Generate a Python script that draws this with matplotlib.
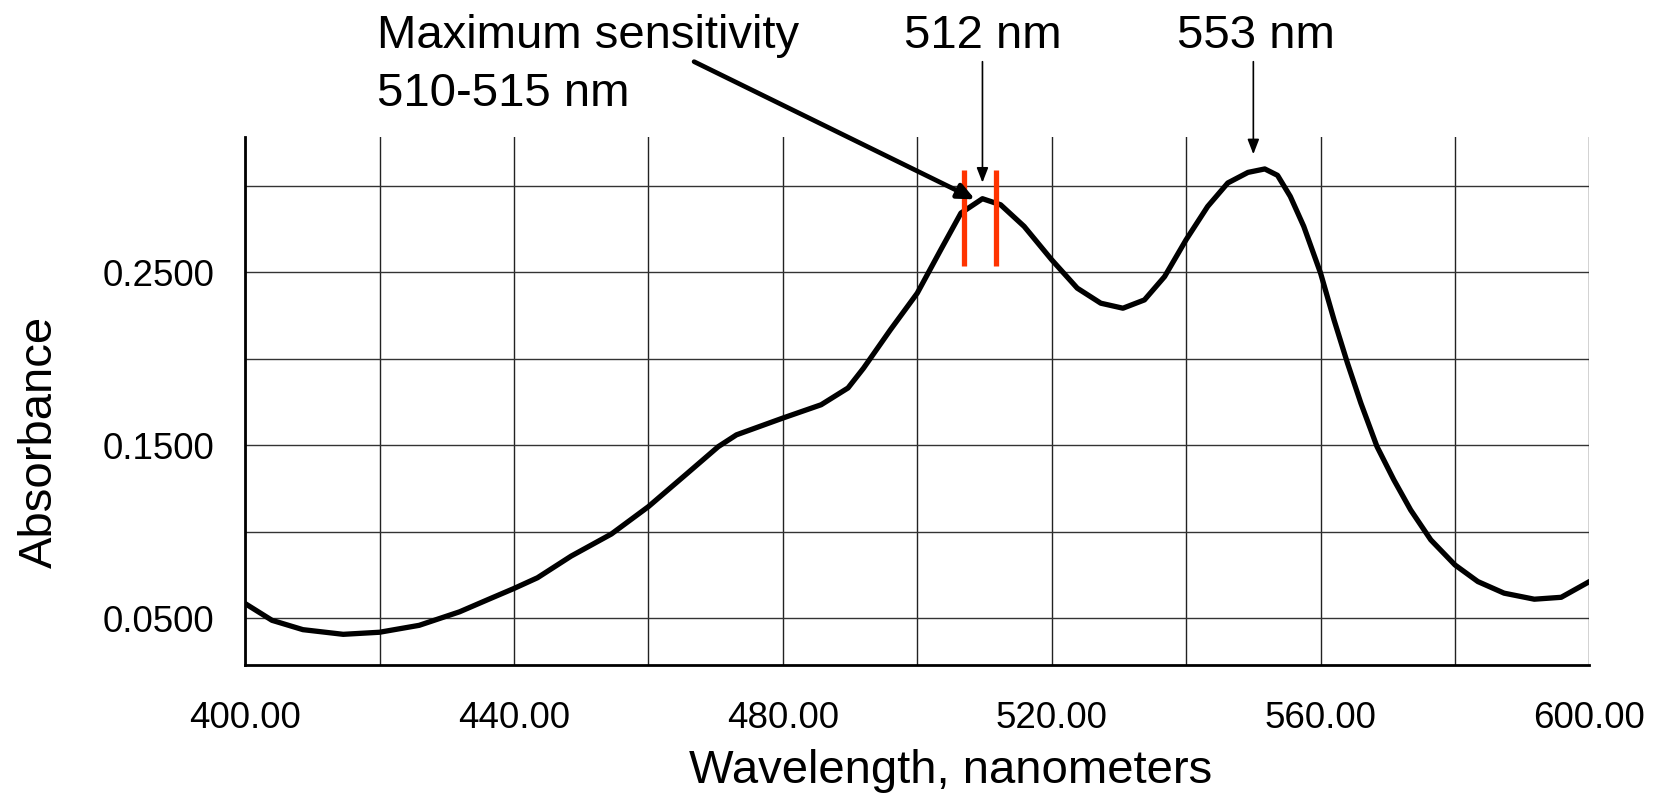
import matplotlib
matplotlib.use("Agg")
import matplotlib.pyplot as plt

plt.rcParams['font.family'] = ['Liberation Sans', 'DejaVu Sans']

# Spectrum
wavelength = [400.0, 404.0, 408.6, 414.6, 420.0, 425.9, 431.9, 436.5, 440.0, 443.5,
              448.5, 454.5, 460.0, 465.8, 470.4, 473.1, 480.0, 485.7, 489.7, 492.0,
              496.0, 500.0, 503.5, 506.5, 509.7, 512.4, 515.9, 520.0, 523.8, 527.3,
              530.6, 533.8, 536.8, 540.0, 543.2, 546.2, 549.2, 551.7, 553.6, 555.5,
              557.5, 560.0, 562.0, 564.0, 566.0, 568.4, 570.9, 573.4, 576.4, 580.0,
              583.4, 587.3, 591.8, 595.8, 600.0]
absorbance = [0.0585, 0.0488, 0.0434, 0.0407, 0.0419, 0.0459, 0.0537, 0.0614, 0.0672, 0.0734,
              0.0859, 0.0987, 0.1145, 0.1338, 0.1492, 0.1560, 0.1657, 0.1734, 0.1831, 0.1945,
              0.2167, 0.2379, 0.2630, 0.2842, 0.2925, 0.2890, 0.2765, 0.2572, 0.2408, 0.2321,
              0.2292, 0.2340, 0.2475, 0.2688, 0.2880, 0.3016, 0.3077, 0.3097, 0.3060, 0.2938,
              0.2765, 0.2495, 0.2225, 0.1975, 0.1743, 0.1492, 0.1300, 0.1126, 0.0953, 0.0808,
              0.0712, 0.0645, 0.0610, 0.0621, 0.0712]

x_ticks = [400, 440, 480, 520, 560, 600]
x_tick_labels = ["400.00", "440.00", "480.00", "520.00", "560.00", "600.00"]
y_ticks = [0.05, 0.15, 0.25]
y_tick_labels = ["0.0500", "0.1500", "0.2500"]
x_grid = [400, 420, 440, 460, 480, 500, 520, 540, 560, 580, 600]
y_grid = [0.05, 0.10, 0.15, 0.20, 0.25, 0.30]

sensitivity_band = [507.0, 511.7]
band_range = [0.2536, 0.3091]

fig = plt.figure(figsize=(16.56, 7.94), dpi=100)
ax = fig.add_axes([0.148, 0.1621, 0.9598 - 0.148, 0.8271 - 0.1621])
ax.set_xlim(400, 600)
ax.set_ylim(0.0228, 0.3280)

for gx in x_grid:
    ax.axvline(gx, color='#222222', lw=1.0, zorder=1)
for gy in y_grid:
    ax.axhline(gy, color='#333333', lw=1.0, zorder=1)

ax.plot(wavelength, absorbance, color='black', lw=3.8, zorder=3,
        solid_capstyle='round', solid_joinstyle='round')

for bx in sensitivity_band:
    ax.plot([bx, bx], band_range, color='#ff3300', lw=3.8, zorder=4, solid_capstyle='butt')

for s in ['top', 'right']:
    ax.spines[s].set_visible(False)
for s in ['left', 'bottom']:
    ax.spines[s].set_linewidth(2)
    ax.spines[s].set_color('black')

ax.set_xticks(x_ticks)
ax.set_xticklabels(x_tick_labels)
ax.set_yticks(y_ticks)
ax.set_yticklabels(y_tick_labels)
ax.tick_params(axis='both', length=0, labelsize=26.5)
ax.tick_params(axis='x', pad=26)
ax.tick_params(axis='y', pad=22)

fig.text(950.5 / 1656, 1 - 771 / 794, "Wavelength, nanometers",
         ha='center', va='center', fontsize=34)
fig.text(40 / 1656, 1 - 441.5 / 794, "Absorbance", rotation=90,
         ha='center', va='center', fontsize=34)

# Annotations
ax.text(419.6, 0.3863, "Maximum sensitivity", ha='left', va='center', fontsize=34, clip_on=False)
ax.text(419.6, 0.3529, "510-515 nm", ha='left', va='center', fontsize=34, clip_on=False)
ax.text(509.7, 0.3863, "512 nm", ha='center', va='center', fontsize=34, clip_on=False)
ax.text(550.4, 0.3863, "553 nm", ha='center', va='center', fontsize=34, clip_on=False)

ax.annotate("", xy=(508.6, 0.2921), xytext=(466.8, 0.3717), annotation_clip=False,
            arrowprops=dict(arrowstyle='-|>,head_length=1.0,head_width=0.45', color='black',
                            lw=3.4, shrinkA=0, shrinkB=0), zorder=5)
ax.annotate("", xy=(509.7, 0.3018), xytext=(509.7, 0.3717), annotation_clip=False,
            arrowprops=dict(arrowstyle='-|>,head_length=0.9,head_width=0.35', color='black',
                            lw=1.2, shrinkA=0, shrinkB=0), zorder=5)
ax.annotate("", xy=(550.0, 0.3182), xytext=(550.0, 0.3717), annotation_clip=False,
            arrowprops=dict(arrowstyle='-|>,head_length=0.9,head_width=0.35', color='black',
                            lw=1.2, shrinkA=0, shrinkB=0), zorder=5)

fig.savefig("out.png", dpi=100)
